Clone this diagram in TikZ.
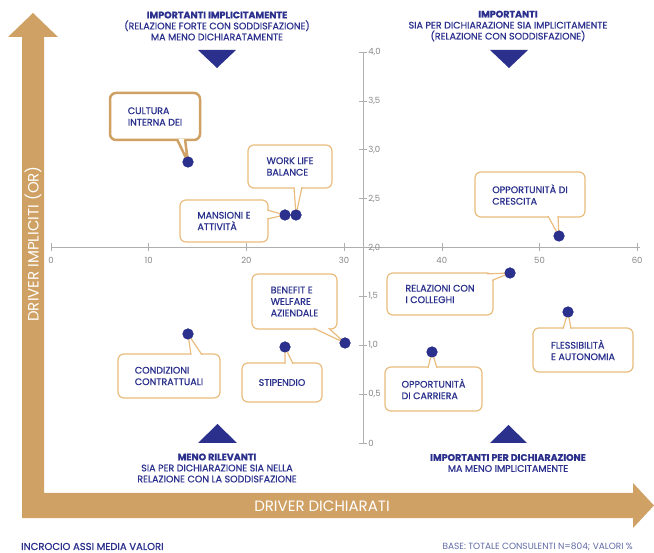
\documentclass[tikz,border=0pt]{standalone}
\usepackage{fontspec}
\setmainfont{Poppins}
\newfontfamily\medfont{Poppins}[FakeBold=0.7]
\usetikzlibrary{calc, positioning}

\definecolor{navy}{RGB}{42,48,140}
\definecolor{tan}{RGB}{208,161,100}
\definecolor{boxtan}{RGB}{234,188,125}
\definecolor{axisgray}{RGB}{175,175,175}
\definecolor{ticklabel}{RGB}{135,135,135}
\definecolor{basenote}{RGB}{95,105,165}

\begin{document}
\begin{tikzpicture}[x=1pt, y=-1pt,
        dot/.style={circle, fill=navy, inner sep=0pt, minimum size=11pt},
        callout/.style={draw=boxtan, line width=1.2pt, rounded corners=6pt, fill=white, align=left, text=navy, inner sep=0pt, font=\medfont\fontsize{9.5}{11.5}\selectfont},
        tail/.style={draw=boxtan, line width=1.2pt, fill=white, line join=round},
        quadrant/.style={align=center, text=navy, font=\medfont\fontsize{9.5}{11}\selectfont},
        axislabel/.style={text=white, font=\fontsize{15}{17}\selectfont},
        ticklab/.style={text=ticklabel, font=\fontsize{8.5}{9}\selectfont, inner sep=1pt},
        tickmark/.style={draw=axisgray, line width=0.6pt}]
        \useasboundingbox (0,0) rectangle (654,553);

        % big L arrow
        \fill[tan] (22,518) -- (22,37) -- (8,37) -- (33,13) -- (58,37) -- (44,37) -- (44,493)
            -- (633,493) -- (633,483) -- (654,505.5) -- (633,528) -- (633,518) -- cycle;
        \node[axislabel, rotate=90] (ylabel) at (33,244) {DRIVER IMPLICITI (OR)};
        \node[axislabel] (xlabel) at (322,506) {DRIVER DICHIARATI};

        % axes
        \draw[tickmark] (51,247) -- (640,247);
        \draw[tickmark] (363,52) -- (363,443);

        \draw[tickmark] (51,243) -- (51,251) node[ticklab, below=5pt] (x0) {0};
        \draw[tickmark] (148.7,243) -- (148.7,251) node[ticklab, below=5pt] (x10) {10};
        \draw[tickmark] (246.4,243) -- (246.4,251) node[ticklab, below=5pt] (x20) {20};
        \draw[tickmark] (344.1,243) -- (344.1,251) node[ticklab, below=5pt] (x30) {30};
        \draw[tickmark] (441.8,243) -- (441.8,251) node[ticklab, below=5pt] (x40) {40};
        \draw[tickmark] (539.5,243) -- (539.5,251) node[ticklab, below=5pt] (x50) {50};
        \draw[tickmark] (637.2,243) -- (637.2,251) node[ticklab, below=5pt] (x60) {60};

        \draw[tickmark] (359,52) -- (367,52) node[ticklab, right] (y40) {4,0};
        \draw[tickmark] (359,100.9) -- (367,100.9) node[ticklab, right] (y35) {3,5};
        \draw[tickmark] (359,149.8) -- (367,149.8) node[ticklab, right] (y30) {3,0};
        \draw[tickmark] (359,198.6) -- (367,198.6) node[ticklab, right] (y25) {2,5};
        \draw[tickmark] (359,247.5) -- (367,247.5) node[ticklab, right] (y20) {2,0};
        \draw[tickmark] (359,296.4) -- (367,296.4) node[ticklab, right] (y15) {1,5};
        \draw[tickmark] (359,345.3) -- (367,345.3) node[ticklab, right] (y10) {1,0};
        \draw[tickmark] (359,394.1) -- (367,394.1) node[ticklab, right] (y05) {0,5};
        \draw[tickmark] (359,443) -- (367,443) node[ticklab, right] (y00) {0};

        % quadrant notes
        \node[quadrant] (topleft) at (217,26) {\textbf{IMPORTANTI IMPLICITAMENTE}\\(RELAZIONE FORTE CON SODDISFAZIONE)\\MA MENO DICHIARATAMENTE};
        \node[quadrant] (topright) at (508,26) {\textbf{IMPORTANTI}\\SIA PER DICHIARAZIONE SIA IMPLICITAMENTE\\(RELAZIONE CON SODDISFAZIONE)};
        \node[quadrant] (bottomleft) at (217,468) {\textbf{MENO RILEVANTI}\\SIA PER DICHIARAZIONE SIA NELLA\\RELAZIONE CON LA SODDISFAZIONE};
        \node[quadrant] (bottomright) at (508,463) {\textbf{IMPORTANTI PER DICHIARAZIONE}\\MA MENO IMPLICITAMENTE};
        \fill[navy] (198,50) -- (236,50) -- (217,68) -- cycle;
        \fill[navy] (490,50) -- (528,50) -- (509,68) -- cycle;
        \fill[navy] (198,443) -- (237,443) -- (217.5,424) -- cycle;
        \fill[navy] (490,443) -- (527,443) -- (508.5,425) -- cycle;

        % callout boxes
        \node[callout, draw=tan, line width=2.5pt, minimum width=90pt, minimum height=47pt] (culturabox) at (155,116.5) {CULTURA\\INTERNA DEI};
        \node[callout, minimum width=84pt, minimum height=43pt] (worklifebox) at (290,166.5) {WORK LIFE\\BALANCE};
        \node[callout, minimum width=88pt, minimum height=42pt] (mansionibox) at (224,221) {MANSIONI E\\ATTIVITÀ};
        \node[callout, minimum width=110pt, minimum height=45pt] (crescitabox) at (530,194.5) {OPPORTUNITÀ DI\\CRESCITA};
        \node[callout, minimum width=106pt, minimum height=42pt] (relazionibox) at (440,294) {RELAZIONI CON\\I COLLEGHI};
        \node[callout, minimum width=100pt, minimum height=44pt] (flessibilitabox) at (583,350) {FLESSIBILITÀ\\E AUTONOMIA};
        \node[callout, minimum width=85pt, minimum height=55pt] (benefitbox) at (294.5,301.5) {BENEFIT E\\WELFARE\\AZIENDALE};
        \node[callout, minimum width=102pt, minimum height=44pt] (condizionibox) at (169,376) {CONDIZIONI\\CONTRATTUALI};
        \node[callout, minimum width=80pt, minimum height=39pt] (stipendiobox) at (282,382.5) {STIPENDIO};
        \node[callout, minimum width=97pt, minimum height=44pt] (carrierabox) at (433.5,389) {OPPORTUNITÀ\\DI CARRIERA};

        % data points
        \node[dot] (cultura) at (188,162) {};
        \node[dot] (mansioni) at (285,215) {};
        \node[dot] (worklife) at (296,215) {};
        \node[dot] (crescita) at (559,236) {};
        \node[dot] (relazioni) at (510,273) {};
        \node[dot] (flessibilita) at (568,312) {};
        \node[dot] (benefit) at (345,343) {};
        \node[dot] (carriera) at (432,352) {};
        \node[dot] (condizioni) at (188,334) {};
        \node[dot] (stipendio) at (285,347) {};

        % tails
        \draw[tail, draw=tan, line width=2.5pt] ($(culturabox.south)+(22,-2)$) -- (cultura.center) -- ($(culturabox.south)+(30,-2)$);
        \draw[tail] ($(worklifebox.south)+(4,-1.5)$) -- (worklife.center) -- ($(worklifebox.south)+(12,-1.5)$);
        \draw[tail] ($(mansionibox.east)+(-1.5,-11)$) -- (mansioni.center) -- ($(mansionibox.east)+(-1.5,-2)$);
        \draw[tail] ($(crescitabox.south)+(18,-1.5)$) -- (crescita.center) -- ($(crescitabox.south)+(28,-1.5)$);
        \draw[tail] ($(relazionibox.north east)+(-7,1.5)$) -- (relazioni.center) -- ($(relazionibox.north east)+(-1.5,8)$);
        \draw[tail] ($(flessibilitabox.north)+(-20,1.5)$) -- (flessibilita.center) -- ($(flessibilitabox.north)+(-12,1.5)$);
        \draw[tail] ($(benefitbox.south east)+(-24,-1.5)$) -- (benefit.center) -- ($(benefitbox.south east)+(-9,-1.5)$);
        \draw[tail] ($(condizionibox.north)+(22,1.5)$) -- (condizioni.center) -- ($(condizionibox.north)+(33,1.5)$);
        \draw[tail] ($(stipendiobox.north)+(3,1.5)$) -- (stipendio.center) -- ($(stipendiobox.north)+(11,1.5)$);
        \draw[tail] ($(carrierabox.north)+(-5.5,1.5)$) -- (carriera.center) -- ($(carrierabox.north)+(3.5,1.5)$);

        % dots again on top of the tails
        \fill[navy] (cultura) circle (5.5);
        \fill[navy] (mansioni) circle (5.5);
        \fill[navy] (worklife) circle (5.5);
        \fill[navy] (crescita) circle (5.5);
        \fill[navy] (relazioni) circle (5.5);
        \fill[navy] (flessibilita) circle (5.5);
        \fill[navy] (benefit) circle (5.5);
        \fill[navy] (carriera) circle (5.5);
        \fill[navy] (condizioni) circle (5.5);
        \fill[navy] (stipendio) circle (5.5);

        % footer
        \node[anchor=base west, inner sep=1pt, text=navy, font=\medfont\fontsize{10}{11}\selectfont] (footnote) at (20,550) {INCROCIO ASSI MEDIA VALORI};
        \node[anchor=base east, inner sep=1pt, text=basenote, font=\fontsize{9}{10}\selectfont] (basenote) at (634,550) {BASE: TOTALE CONSULENTI N=804; VALORI \%};
    \end{tikzpicture}
\end{document}
